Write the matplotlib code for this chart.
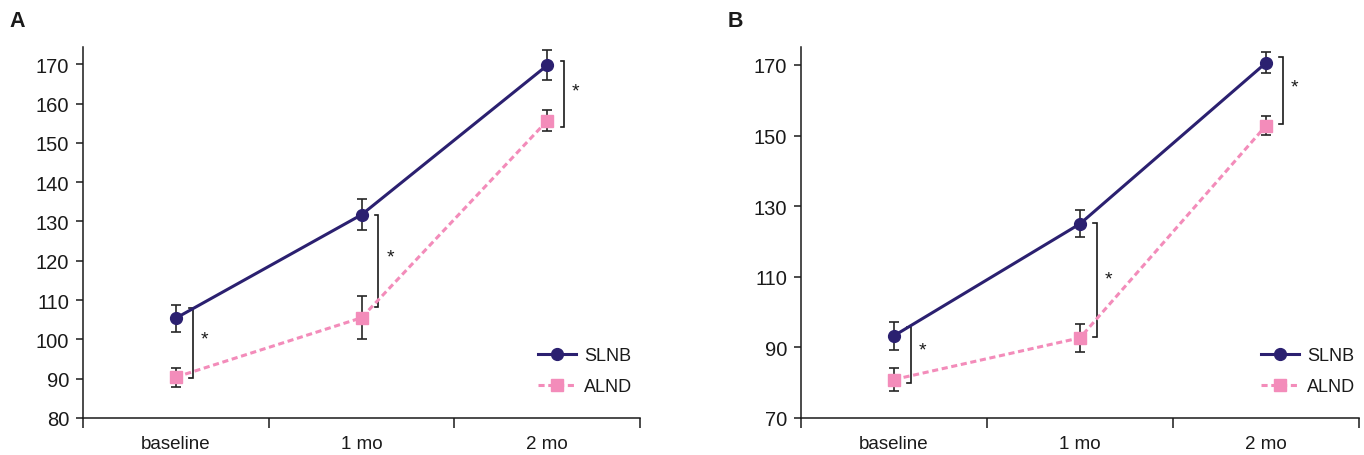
import matplotlib
matplotlib.use('Agg')
import matplotlib.pyplot as plt
from matplotlib.ticker import FixedLocator, NullFormatter

plt.rcParams['font.family'] = ['Liberation Sans', 'DejaVu Sans']

categories = ['baseline', '1 mo', '2 mo']

# Panel A
a_slnb = [105.4, 131.7, 169.7]
a_slnb_err = [3.4, 4.0, 3.8]
a_alnd = [90.4, 105.5, 155.6]
a_alnd_err = [2.4, 5.5, 2.7]
a_yticks = [80, 90, 100, 110, 120, 130, 140, 150, 160, 170]
a_ylim = (80, 174.3)
a_bracket_top = [107.9, 131.7, 170.7]
a_bracket_bot = [90.2, 108.2, 154.0]
a_star_y = [100.0, 121.0, 163.2]

# Panel B
b_slnb = [93.3, 125.0, 170.6]
b_slnb_err = [3.9, 3.8, 3.0]
b_alnd = [80.9, 92.7, 152.8]
b_alnd_err = [3.2, 3.9, 2.7]
b_yticks = [70, 90, 110, 130, 150, 170]
b_ylim = (70, 175.0)
b_bracket_top = [95.8, 125.3, 172.2]
b_bracket_bot = [80.0, 92.9, 153.3]
b_star_y = [89.2, 109.5, 163.9]

series_names = ['SLNB', 'ALND']
slnb_color = '#2b2070'
alnd_color = '#f38cba'
err_color = '#262626'

fig = plt.figure(figsize=(13.64, 4.56), dpi=100)
axA = fig.add_axes([83 / 1364, 1 - 419 / 456, 557 / 1364, (419 - 48.3) / 456])
axB = fig.add_axes([801 / 1364, 1 - 419 / 456, 558 / 1364, (419 - 48.3) / 456])


def draw(ax, slnb, slnb_err, alnd, alnd_err, yticks, ylim, btop, bbot, stars, leg_x):
    x = list(range(len(categories)))
    ax.errorbar(x, slnb, yerr=slnb_err, fmt='none', ecolor=err_color,
                elinewidth=1.2, capsize=3.8, capthick=1.2, zorder=2)
    ax.errorbar(x, alnd, yerr=alnd_err, fmt='none', ecolor=err_color,
                elinewidth=1.2, capsize=3.8, capthick=1.2, zorder=2)
    ax.plot(x, slnb, color=slnb_color, lw=2.2, marker='o', markersize=8.5,
            label=series_names[0], zorder=4)
    ax.plot(x, alnd, color=alnd_color, lw=2.2, ls=(0, (2.0, 1.2)), marker='s',
            markersize=8, label=series_names[1], zorder=3)
    off = 0.09
    tick = 0.018
    for xi, t, b, s in zip(x, btop, bbot, stars):
        bx = xi + off
        ax.plot([bx - tick, bx, bx, bx - tick], [t, t, b, b], color='#1a1a1a',
                lw=1.2, zorder=2, solid_joinstyle='miter')
        ax.text(xi + 0.155, s, '*', fontsize=14, ha='center', va='center',
                color='#1a1a1a')
    ax.set_xlim(-0.5, len(categories) - 0.5)
    ax.set_ylim(*ylim)
    ax.set_yticks(yticks)
    ax.tick_params(axis='y', labelsize=14.5, length=5, width=1.1, pad=5,
                   colors='#1a1a1a')
    ax.set_xticks(x)
    ax.set_xticklabels(categories)
    ax.tick_params(axis='x', which='major', length=0, labelsize=13.5, pad=12.5,
                   colors='#1a1a1a')
    ax.xaxis.set_minor_locator(FixedLocator([-0.5, 0.5, 1.5, 2.5]))
    ax.xaxis.set_minor_formatter(NullFormatter())
    ax.tick_params(axis='x', which='minor', length=7, width=1.1, color='#1a1a1a')
    for sp in ['top', 'right']:
        ax.spines[sp].set_visible(False)
    for sp in ['left', 'bottom']:
        ax.spines[sp].set_linewidth(1.1)
        ax.spines[sp].set_color('#1a1a1a')
    leg = ax.legend(loc='lower left', bbox_to_anchor=(leg_x, 0.061), frameon=False,
                    fontsize=13, handlelength=2.1, handletextpad=0.45,
                    labelspacing=0.78, borderpad=0, borderaxespad=0)
    for t in leg.get_texts():
        t.set_color('#1a1a1a')


draw(axA, a_slnb, a_slnb_err, a_alnd, a_alnd_err, a_yticks, a_ylim,
     a_bracket_top, a_bracket_bot, a_star_y, 0.817)
draw(axB, b_slnb, b_slnb_err, b_alnd, b_alnd_err, b_yticks, b_ylim,
     b_bracket_top, b_bracket_bot, b_star_y, 0.824)

fig.text(9 / 1364, 1 - 27 / 456, 'A', fontsize=15.5, fontweight='heavy', color='#1a1a1a')
fig.text(728 / 1364, 1 - 27 / 456, 'B', fontsize=15.5, fontweight='heavy', color='#1a1a1a')

fig.savefig('out.png', dpi=100)
